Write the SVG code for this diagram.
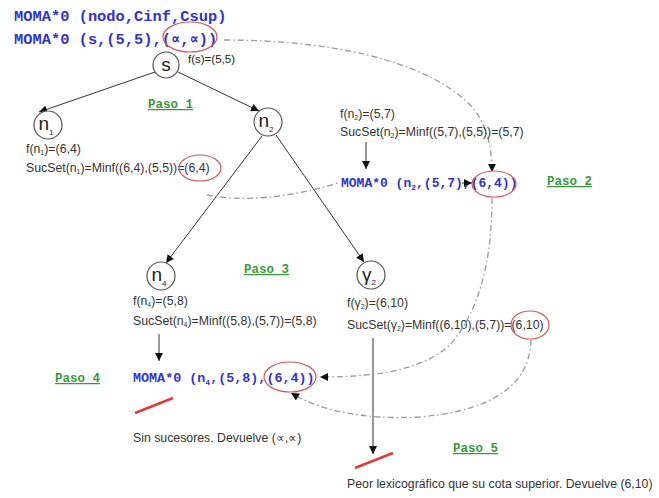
<svg xmlns="http://www.w3.org/2000/svg" width="659" height="498" viewBox="0 0 659 498">
  <style>
    .moma { font-family: "Liberation Mono", "DejaVu Sans Mono", monospace; font-weight: bold; fill: #3333c4; }
    .paso { font-family: "Liberation Mono", "DejaVu Sans Mono", monospace; font-weight: bold; font-size: 12.5px; fill: #3a9a3a; text-decoration: underline; }
    .info { font-family: "Liberation Sans", Arial, sans-serif; font-size: 12.3px; fill: #333; }
    .sub { font-size: 7px; }
    .node circle { fill: #fff; stroke: #555; stroke-width: 1.2; }
    .node text { font-family: "Liberation Sans", Arial, sans-serif; font-size: 19px; fill: #222; text-anchor: middle; }
    .node .nsub { font-size: 8px; }
    .edge { stroke: #333; stroke-width: 1; fill: none; }
    .dd { stroke: #9a9a9a; stroke-width: 1.3; fill: none; stroke-dasharray: 6 3 1.5 3; }
    .mark { fill: none; stroke: #d05a5a; stroke-width: 1.2; }
    .cut { stroke: #e03a3a; stroke-width: 2.5; }
  </style>
  <defs>
    <marker id="tip" viewBox="0 0 10 10" refX="10" refY="5" markerWidth="9" markerHeight="8" markerUnits="userSpaceOnUse" orient="auto">
      <path d="M0,0 L10,5 L0,10 z" fill="#111"/>
    </marker>
  </defs>
  <rect width="659" height="498" fill="#fff"/>

  <!-- headers -->
  <text class="moma" x="14" y="21" font-size="15.4">MOMA*0 (nodo,Cinf,Csup)</text>
  <text class="moma" x="14" y="44" font-size="15.4">MOMA*0 (s,(5,5),(∝,∝))</text>
  <ellipse class="mark" cx="190" cy="37" rx="27" ry="15"/>

  <!-- step labels -->
  <text class="paso" x="148" y="108">Paso 1</text>
  <text class="paso" x="547" y="185">Paso 2</text>
  <text class="paso" x="244" y="273">Paso 3</text>
  <text class="paso" x="55" y="382">Paso 4</text>
  <text class="paso" x="453" y="452">Paso 5</text>

  <!-- connectors -->
  <g id="connectors">
    <line class="edge" x1="155" y1="72" x2="39" y2="112" marker-end="url(#tip)"/>
    <line class="edge" x1="178" y1="72" x2="259" y2="111" marker-end="url(#tip)"/>
    <line class="edge" x1="262" y1="136" x2="166" y2="263" marker-end="url(#tip)"/>
    <line class="edge" x1="276" y1="135" x2="364" y2="262" marker-end="url(#tip)"/>
    <line class="edge" x1="366" y1="142" x2="366" y2="169" marker-end="url(#tip)"/>
    <line class="edge" x1="159" y1="334" x2="159" y2="361" marker-end="url(#tip)"/>
    <line class="edge" x1="373" y1="338" x2="373" y2="454" marker-end="url(#tip)"/>

    <!-- bound propagation (dash-dot) -->
    <path class="dd" d="M224,40 C330,40 420,60 465,100 C488,120 492,150 492,172" marker-end="url(#tip)"/>
    <path class="dd" d="M207,195 C240,202 290,198 338,183"/>
    <line class="edge" x1="462" y1="183" x2="472" y2="183" marker-end="url(#tip)"/>
    <path class="dd" d="M492,198 C492,260 480,310 450,345 C420,372 370,377 320,377" marker-end="url(#tip)"/>
    <path class="dd" d="M531,340 C530,380 500,410 420,417 C360,420 320,410 291,393" marker-end="url(#tip)"/>

    <!-- pruned branches -->
    <line class="cut" x1="135" y1="413" x2="173" y2="398"/>
    <line class="cut" x1="355" y1="468" x2="393" y2="453"/>
  </g>

  <!-- nodes -->
  <g id="node-s" class="node">
    <circle cx="166" cy="65" r="13"/>
    <text x="166" y="71">s</text>
    <text class="info" x="188" y="63" style="text-anchor:start;font-size:11.5px">f(s)=(5,5)</text>
  </g>

  <g id="node-n1" class="node">
    <circle cx="48" cy="125" r="14"/>
    <text x="46" y="130">n<tspan class="nsub" dy="5">1</tspan></text>
  </g>
  <g id="info-n1">
    <text class="info" x="26" y="153">f(n<tspan class="sub" dy="2">1</tspan><tspan dy="-2">)=(6,4)</tspan></text>
    <text class="info" x="26" y="172">SucSet(n<tspan class="sub" dy="2">1</tspan><tspan dy="-2">)=Minf((6,4),(5,5))=(6,4)</tspan></text>
    <ellipse class="mark" cx="200" cy="168" rx="21" ry="13"/>
  </g>

  <g id="node-n2" class="node">
    <circle cx="268" cy="122" r="14"/>
    <text x="266" y="127">n<tspan class="nsub" dy="5">2</tspan></text>
  </g>
  <g id="info-n2">
    <text class="info" x="340" y="118">f(n<tspan class="sub" dy="2">2</tspan><tspan dy="-2">)=(5,7)</tspan></text>
    <text class="info" x="340" y="136">SucSet(n<tspan class="sub" dy="2">2</tspan><tspan dy="-2">)=Minf((5,7),(5,5))=(5,7)</tspan></text>
    <text class="moma" x="341" y="187" font-size="13">MOMA*0 (n<tspan font-size="8" dy="3">2</tspan><tspan dy="-3">,(5,7),(6,4))</tspan></text>
    <ellipse class="mark" cx="494" cy="184" rx="22" ry="13"/>
  </g>

  <g id="node-n4" class="node">
    <circle cx="161" cy="276" r="14"/>
    <text x="159" y="281">n<tspan class="nsub" dy="5">4</tspan></text>
  </g>
  <g id="info-n4">
    <text class="info" x="133" y="305">f(n<tspan class="sub" dy="2">4</tspan><tspan dy="-2">)=(5,8)</tspan></text>
    <text class="info" x="133" y="325">SucSet(n<tspan class="sub" dy="2">4</tspan><tspan dy="-2">)=Minf((5,8),(5,7))=(5,8)</tspan></text>
    <text class="moma" x="133" y="382" font-size="13.4">MOMA*0 (n<tspan font-size="8" dy="3">4</tspan><tspan dy="-3">,(5,8),(6,4))</tspan></text>
    <ellipse class="mark" cx="290" cy="377" rx="26" ry="15"/>
    <text class="info" x="133" y="442">Sin sucesores. Devuelve (∝,∝)</text>
  </g>

  <g id="node-g2" class="node">
    <circle cx="371" cy="275" r="14"/>
    <text x="369" y="281">γ<tspan class="nsub" dy="4">2</tspan></text>
  </g>
  <g id="info-g2">
    <text class="info" x="347" y="307">f(γ<tspan class="sub" dy="2">2</tspan><tspan dy="-2">)=(6,10)</tspan></text>
    <text class="info" x="347" y="329">SucSet(γ<tspan class="sub" dy="2">2</tspan><tspan dy="-2">)=Minf((6,10),(5,7))=(6,10)</tspan></text>
    <ellipse class="mark" cx="530" cy="325" rx="19" ry="14"/>
    <text class="info" x="347" y="488">Peor lexicográfico que su cota superior. Devuelve (6,10)</text>
  </g>
</svg>
